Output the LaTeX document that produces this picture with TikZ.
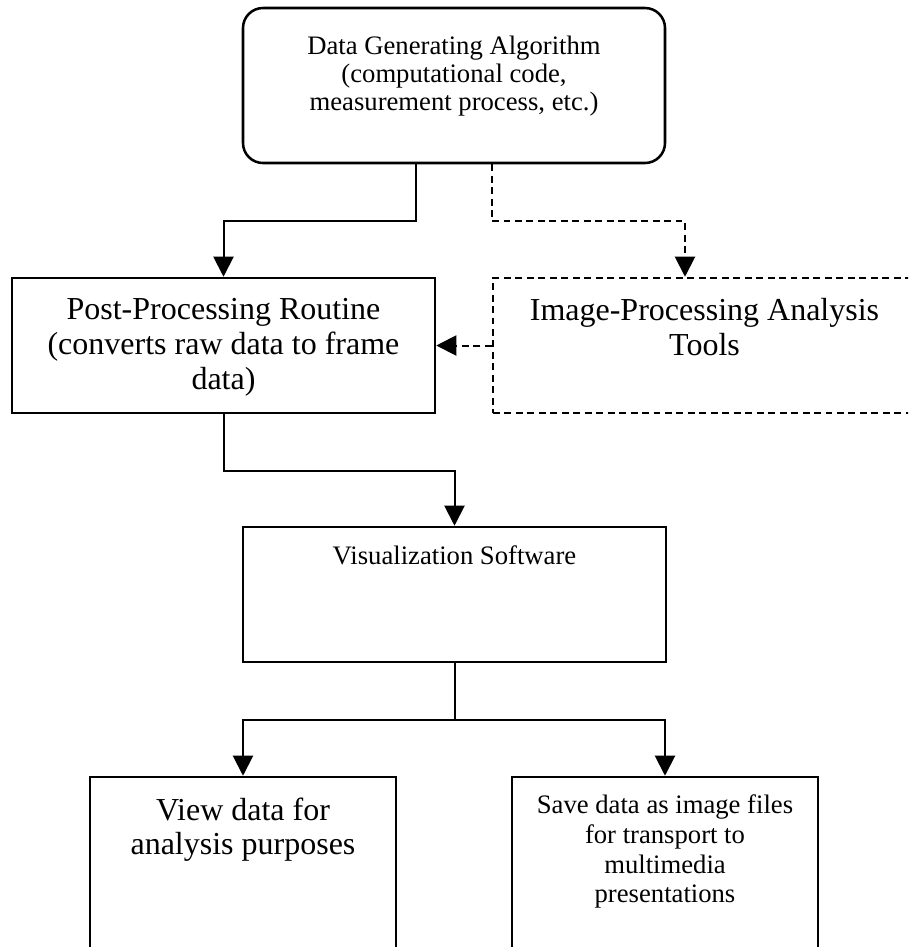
\documentclass[tikz,border=0pt]{standalone}
\usepackage{fontspec}
\setmainfont{Liberation Serif}
\usetikzlibrary{arrows.meta,calc}
\newcommand{\pxu}{0.375pt}
\tikzset{
  flowbox/.style={draw, line width=0.95pt, inner sep=0pt},
  dashbox/.style={flowbox, dash pattern=on 2.6pt off 1.7pt},
  conn/.style={line width=0.75pt, -{Triangle[length=7.5pt,width=7.5pt]}},
  dashconn/.style={conn, dash pattern=on 2.6pt off 1.7pt},
  bigtxt/.style={anchor=north, align=center, inner sep=0pt, font=\fontsize{12}{13}\selectfont},
  smalltxt/.style={anchor=north, align=center, inner sep=0pt, font=\fontsize{10}{10.5}\selectfont}
}

\begin{document}
\begin{tikzpicture}[x=\pxu, y=-\pxu]

	\useasboundingbox (0,0) rectangle (908,947);
	\clip (0,0) rectangle (908,947);

	% boxes
	\node[flowbox, rounded corners=20*\pxu, minimum width=422*\pxu, minimum height=155*\pxu] (gen) at (454,85.5) {};
	\node[flowbox, minimum width=423*\pxu, minimum height=135*\pxu] (post) at (223.5,345.5) {};
	\node[dashbox, minimum width=423*\pxu, minimum height=135*\pxu] (imgtool) at (704.5,345.5) {};
	\node[flowbox, minimum width=423*\pxu, minimum height=135*\pxu] (vis) at (454.5,594.5) {};
	\node[flowbox, minimum width=306*\pxu, minimum height=240*\pxu] (view) at (243,897) {};
	\node[flowbox, minimum width=306*\pxu, minimum height=240*\pxu] (save) at (665,897) {};

	% texts
	\node[smalltxt] (gentxt) at (454,35) {Data Generating Algorithm\\(computational code,\\measurement process, etc.)};
	\node[bigtxt] (posttxt) at (223.5,298) {Post-Processing Routine\\(converts raw data to frame\\data)};
	\node[bigtxt] (imgtxt) at (704.5,298) {Image-Processing Analysis\\Tools};
	\node[smalltxt] (vistxt) at (454.5,545) {Visualization Software};
	\node[bigtxt] (viewtxt) at (243,797) {View data for\\analysis purposes};
	\node[smalltxt, font=\fontsize{10}{11.2}\selectfont] (savetxt) at (665,794) {Save data as image files\\for transport to\\multimedia\\presentations};

	% connectors
	\draw[conn] ($(gen.south)+(-38,0)$) -- ++(0,57) -| (post.north);
	\draw[dashconn] (gen.south -| imgtool.west) -- ++(0,57) -| ($(imgtool.north)+(-19.5,0)$);
	\draw[dashconn] (imgtool.west) -- (post.east);
	\draw[conn] (post.south) -- ++(0,57) -| (vis.north);
	\draw[conn] (vis.south) -- ++(0,57) -| (view.north);
	\draw[conn] (vis.south) -- ++(0,57) -| (save.north);

\end{tikzpicture}
\end{document}
